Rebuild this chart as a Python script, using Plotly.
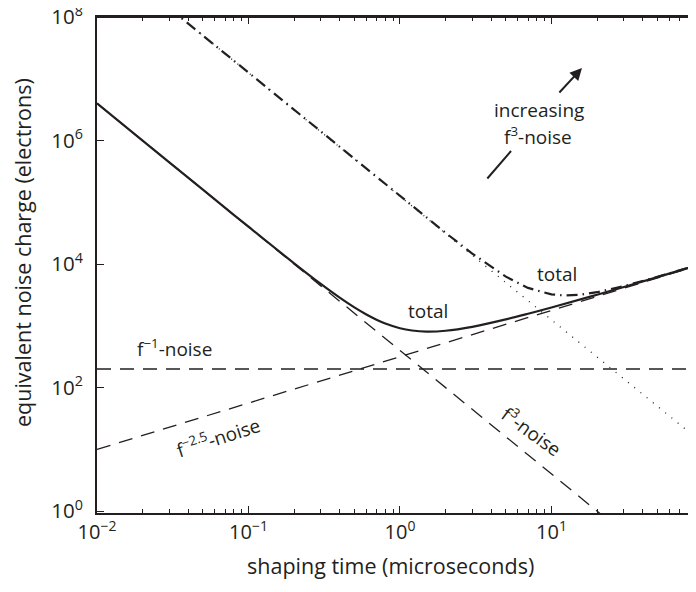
import plotly.graph_objects as go

# shaping time (microseconds) sample points
t_total = [0.01, 0.02, 0.05, 0.1, 0.2, 0.3, 0.4, 0.5, 0.6, 0.7, 0.8, 1.0, 1.2, 1.5, 2, 3, 5, 7, 10, 20, 50, 100]
enc_total = [4.0e6, 1.0e6, 1.6e5, 40256, 10295, 4772, 2859, 1988, 1527, 1258, 1092, 916, 840, 806, 832, 965, 1273, 1569, 1982, 3191, 6145, 10200]

t_total2 = [0.03, 0.05, 0.1, 0.2, 0.5, 1, 2, 3, 5, 7, 10, 12, 15, 20, 30, 50, 100]
enc_total2 = [1.389e8, 5.0e7, 1.25e7, 3.125e6, 500388, 125516, 31982, 14810, 6257, 4112, 3228, 3107, 3166, 3503, 4393, 6195, 10212]

# component lines (end points)
t_f3 = [0.01, 25]
enc_f3 = [4.0e6, 0.64]
t_f3_big = [0.03, 100]
enc_f3_big = [1.389e8, 12.5]
t_f1 = [0.01, 100]
enc_f1 = [200, 200]
t_f25 = [0.01, 100]
enc_f25 = [10, 10000]

x_major = [0.01, 0.1, 1, 10, 100]
x_major_text = ["10<sup>−2</sup>", "10<sup>−1</sup>", "10<sup>0</sup>", "10<sup>1</sup>", "10<sup>2</sup>"]
y_major = [1, 1e2, 1e4, 1e6, 1e8]
y_major_text = ["10<sup>0</sup>", "10<sup>2</sup>", "10<sup>4</sup>", "10<sup>6</sup>", "10<sup>8</sup>"]
x_minor = [m * d for d in [0.01, 0.1, 1, 10] for m in range(2, 10)]

INK = "#231f20"
FONT = "Open Sans"
PW = 599.0   # plot-area width in px
PH = 496.0   # plot-area height in px
X0, YB = 97, 513  # plot-area left / bottom in page px

def px(x):
    return (x - X0) / PW

def py(y):
    return (YB - y) / PH

fig = go.Figure()
fig.add_trace(go.Scatter(x=t_f1, y=enc_f1, mode="lines",
                         line=dict(color=INK, width=1.3, dash="14px,9px")))
fig.add_trace(go.Scatter(x=t_f25, y=enc_f25, mode="lines",
                         line=dict(color=INK, width=1.3, dash="14px,9px")))
fig.add_trace(go.Scatter(x=t_f3, y=enc_f3, mode="lines",
                         line=dict(color=INK, width=1.3, dash="14px,9px")))
fig.add_trace(go.Scatter(x=t_f3_big, y=enc_f3_big, mode="lines",
                         line=dict(color=INK, width=1.3, dash="1px,7px")))
fig.add_trace(go.Scatter(x=t_total2, y=enc_total2, mode="lines",
                         line=dict(color=INK, width=2.2, dash="11px,5px,1.5px,5px")))
fig.add_trace(go.Scatter(x=t_total, y=enc_total, mode="lines",
                         line=dict(color=INK, width=2.2), line_shape="spline"))

fig.update_xaxes(type="log", range=[-2, 1.954], automargin=False,
                 showline=True, linewidth=2, linecolor=INK, mirror="ticks",
                 ticks="inside", ticklen=7, tickwidth=1, tickcolor=INK,
                 tickmode="array", tickvals=x_major, ticktext=x_major_text,
                 ticklabeloverflow="allow",
                 minor=dict(tickmode="array", tickvals=x_minor, ticks="inside", ticklen=4,
                            tickwidth=1, tickcolor=INK, showgrid=False),
                 showgrid=False, zeroline=False,
                 tickfont=dict(family=FONT, size=20, color=INK))
fig.update_yaxes(type="log", range=[-0.03, 8], automargin=False,
                 showline=True, linewidth=2, linecolor=INK, mirror=False,
                 ticks="inside", ticklen=7, tickwidth=1, tickcolor=INK,
                 tickmode="array", tickvals=y_major, ticktext=y_major_text,
                 ticklabelstandoff=8, ticklabeloverflow="allow",
                 showgrid=False, zeroline=False,
                 tickfont=dict(family=FONT, size=20.5, color=INK))

# top frame line
fig.add_shape(type="line", xref="paper", yref="paper", x0=0, x1=1, y0=1, y1=1,
              line=dict(color=INK, width=2), layer="above")

tfont = dict(family=FONT, size=21.5, color=INK)
fig.add_annotation(text="shaping time (microseconds)", x=px(390), y=py(565),
                   xref="paper", yref="paper", showarrow=False, font=tfont,
                   xanchor="center", yanchor="middle")
fig.add_annotation(text="equivalent noise charge (electrons)", x=px(22), y=py(253),
                   xref="paper", yref="paper", showarrow=False, font=tfont, textangle=-90,
                   xanchor="center", yanchor="middle")

afont = dict(family=FONT, size=19, color=INK)
notes = [
    ("f<sup>−1</sup>-noise", 174, 348, 0),
    ("f<sup>−2.5</sup>-noise", 218, 437, -18),
    ("f<sup>3</sup>-noise", 532, 431, 36),
    ("total", 428, 311, 0),
    ("total", 557, 274, 0),
    ("increasing", 539, 110, 0),
    ("f<sup>3</sup>-noise", 538, 136, 0),
]
for txt, xx, yy, ang in notes:
    fig.add_annotation(text=txt, x=px(xx), y=py(yy), xref="paper", yref="paper",
                       showarrow=False, textangle=ang, font=afont,
                       xanchor="center", yanchor="middle")

# arrow (upper, with head) and lower plain segment, in log10 data coordinates
fig.add_annotation(x=1.2013, y=7.174, xref="x", yref="y", text="", showarrow=True,
                   ax=-24, ay=26, arrowhead=2, arrowsize=1.2, arrowwidth=2,
                   arrowcolor=INK, standoff=0, startstandoff=0)
fig.add_annotation(x=0.733, y=5.831, xref="x", yref="y", text="", showarrow=True,
                   ax=-25, ay=29, arrowhead=0, arrowwidth=2,
                   arrowcolor=INK, standoff=0, startstandoff=0)

# the page body adds an 8px margin; keep page height within 592 so nothing is rescaled
fig.update_layout(width=688, height=576, showlegend=False,
                  margin=dict(l=89, r=0, t=9, b=71, autoexpand=False),
                  paper_bgcolor="white", plot_bgcolor="white",
                  font=dict(family=FONT, color=INK))

fig.write_html("out.html")
